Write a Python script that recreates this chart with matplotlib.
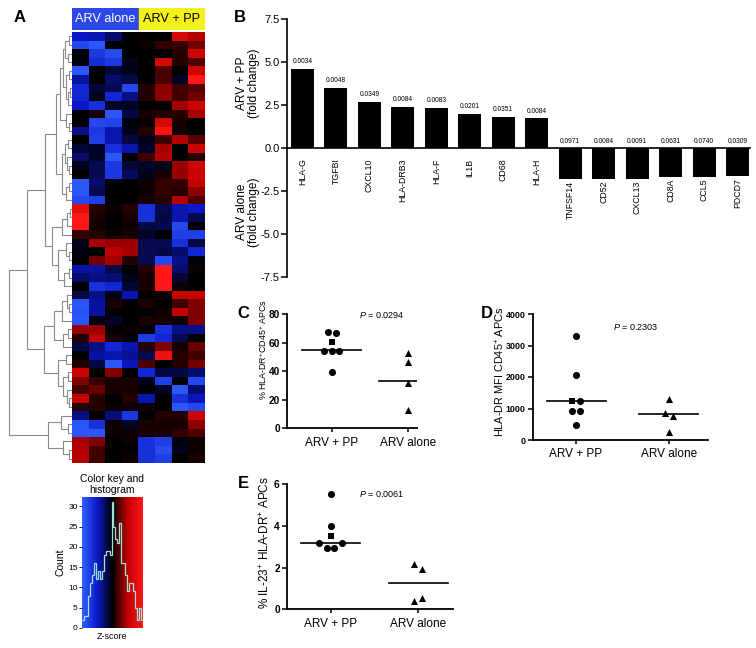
import numpy as np
import matplotlib
matplotlib.use("Agg")
import matplotlib.pyplot as plt
from matplotlib.colors import LinearSegmentedColormap

plt.rcParams["font.family"] = ["Liberation Sans", "DejaVu Sans"]
plt.rcParams["mathtext.fontset"] = "custom"
plt.rcParams["mathtext.rm"] = "Liberation Sans"
plt.rcParams["mathtext.it"] = "Liberation Sans:italic"
plt.rcParams["mathtext.bf"] = "Liberation Sans:bold"

W, H = 756, 648

#. Panel A : z-scores, rows top to bottom, 4 ARV alone + 4 ARV + PP columns
groups = ["ARV alone", "ARV + PP"]
heat_z = [
    [-1.5, -1.3, -0.8, 0, 0, 0, 2.0, 1.4],
    [-2.5, -2.8, 0, 0, 0.1, 0.4, 0.4, 0.9],
    [0, -2.2, -2.6, 0, 0, 0, 0.3, 1.8],
    [-0.1, -1.9, -2.2, -0.2, 0, 2.0, 0.3, 0.6],
    [-2.8, 0, -0.4, -0.2, 0, 0.6, 0, 1.8],
    [-1.2, 0, -0.8, -0.5, 0, 0.6, -0.3, 3.0],
    [-1.8, -0.4, -0.6, -2.5, 0.3, 1.1, 0.5, 0.7],
    [-1.8, -0.2, -1.8, -1.0, 0.3, 1.1, 0.5, 0.9],
    [-1.5, -2.0, -0.3, -0.3, 0, 0, 1.3, 1.8],
    [0, 0.2, -2.8, -0.5, 0.2, 0.3, 0.3, 1.3],
    [0, -2.5, -2.4, -0.1, 0.1, 2.0, 0.2, 0],
    [-1.0, -2.2, -1.3, -0.2, 0.3, 2.8, 0.1, 0],
    [0, -2.3, -1.3, -0.5, -0.2, 0.5, 1.4, 0.7],
    [-0.4, -0.3, -2.0, -1.3, -0.3, 1.3, 0, 1.8],
    [-0.8, -0.3, -2.8, 0, 0.5, 1.4, 0, 0.3],
    [-0.2, -0.6, -2.2, -0.4, -0.3, -0.2, 1.2, 1.8],
    [0, -0.6, -2.2, -0.7, -0.2, 0.2, 1.2, 1.8],
    [-2.8, -0.8, 0, 0, 0.1, 0.4, 0.4, 1.6],
    [-2.8, -0.6, 0, 0, 0.1, 0.4, 0.3, 1.1],
    [-2.5, -2.3, 0, 0, 0.2, 0.3, 1.4, 0.6],
    [2.3, 0.3, 0.1, 0.3, -2.0, -0.6, -1.3, -1.5],
    [3.0, 0.2, 0, 0.2, -2.0, -0.5, -1.3, -0.6],
    [3.0, 0.1, 0, 0.1, -0.5, -0.6, -2.5, 0],
    [0.4, 0.3, 0.1, 0.2, -0.3, 0, -2.3, -2.3],
    [-0.2, 1.3, 1.2, 1.2, -0.6, -0.6, -2.0, -0.5],
    [-0.1, 0, 1.5, 1.3, -0.6, -0.5, -0.8, -1.8],
    [0, 0.9, 1.3, 0.3, -0.6, -2.5, -1.0, -0.1],
    [-1.2, -1.2, -0.5, 0, 0.3, 3.0, -0.8, 0.1],
    [-0.8, -1.0, -0.9, -0.2, 0.2, 3.0, -0.4, 0],
    [0, -2.0, -1.8, -0.4, 0.2, 3.0, 0.1, 0],
    [-0.5, -1.0, -0.2, -1.3, 0, 0.1, 1.6, 1.6],
    [-2.8, -1.2, 0.2, 0, 0.2, 0, 0.5, 1.0],
    [-2.7, -1.2, 0, 0, 0, 0.1, 1.5, 1.0],
    [-2.8, -0.1, -0.3, 0, 0.2, 0.2, 0.1, 1.0],
    [1.2, 1.2, 0, 0.1, 0, -2.0, -1.0, -1.0],
    [0.3, 1.5, 0.2, 0, -2.3, -1.8, -0.6, 0],
    [-0.5, -1.0, -1.8, -1.3, 0.3, 1.0, 0.2, 0.8],
    [0, -1.2, -1.3, -1.1, -0.6, 2.6, 0.3, 0.5],
    [0.3, -0.5, -2.8, -1.4, 0.6, 0, 0.3, 0.9],
    [1.8, 0, 1.0, 0, -1.8, -0.5, -0.5, -0.8],
    [1.0, 0.4, 0.2, 0.2, -0.2, -2.3, 0, -2.5],
    [0.5, 0.8, 0.2, 0.2, 0, -0.3, -2.8, -0.8],
    [1.6, 0.3, 0, 0.3, -1.3, 0, -2.0, -1.4],
    [0.3, 0.3, 0.1, 0.1, 0.1, 0, -2.8, -2.5],
    [-1.0, 0, -0.9, -2.2, 0, 0.3, 0.3, 1.8],
    [-2.8, -2.0, 0.1, -0.3, 0.2, 0.2, 0.2, 1.1],
    [-2.8, -2.8, 0.1, 0.1, 0.2, 0.2, 0.4, 0.6],
    [1.3, 1.0, 0, 0.1, -2.0, -2.3, -0.1, 0.1],
    [1.4, 0.5, 0, 0, -2.0, -2.6, -0.2, 0.1],
    [1.4, 0.5, 0, 0.1, -2.0, -2.3, 0, 0.2],
]

#. row dendrogram : [height, left, right], leaves = row index
row_tree = [63,
    [45,
        [27,
            [16,
                [12, [9, [7, [3, 0, 1], [4, 2, 3]], [6, [3, 4, 5], [4, [2, 6, 7], 8]]], [6, 9, [3, 10, 11]]],
                [10, [7, [4, 12, 13], [5, 14, [3, 15, 16]]], [6, [3, 17, 18], 19]]],
            [20, [10, [5, [2, 20, 21], 22], 23], [14, [6, 24, [3, 25, 26]], [8, [3, 27, 28], 29]]]],
        [28.5,
            [18, [10, [5, 30, [3, 31, 32]], 33], [9, [4, 34, 35], 36]],
            [14, [6, 37, 38], [9, [4, 39, 40], [5, 41, [3, 42, 43]]]]]],
    [24, [11, 44, [4, 45, 46]], [9, 47, [3, 48, 49]]]]

#. colour key histogram counts
hist_counts = [2, 3, 3, 8, 11, 13, 16, 12, 14, 12, 14, 18, 19, 19, 18, 31, 25,
               22, 21, 26, 16, 16, 13, 9, 11, 11, 9, 5, 2, 5, 2]

#. Panel B
genes = ["HLA-G", "TGFBI", "CXCL10", "HLA-DRB3", "HLA-F", "IL1B", "CD68", "HLA-H",
         "TNFSF14", "CD52", "CXCL13", "CD8A", "CCL5", "PDCD7"]
fold_change = [4.61, 3.49, 2.69, 2.41, 2.35, 2.0, 1.81, 1.73,
               -1.79, -1.79, -1.79, -1.67, -1.67, -1.63]
gene_p = ["0.0034", "0.0048", "0.0349", "0.0084", "0.0083", "0.0201", "0.0351", "0.0084",
          "0.0971", "0.0084", "0.0091", "0.0631", "0.0740", "0.0309"]

#. Panels C, D, E
dot_groups = ["ARV + PP", "ARV alone"]
pp_marker = ["o", "o", "s", "o", "o", "o", "o"]
c_pp = [67.5, 66.7, 60.2, 54.3, 54.3, 54.3, 39.5]
c_alone = [52.5, 46.7, 31.5, 12.8]
c_lines = [54.5, 33.0]
d_pp = [3302, 2063, 1248, 1248, 921, 921, 476]
d_alone = [1311, 847, 772, 244]
d_lines = [1248, 815]
e_pp = [5.54, 3.99, 3.51, 3.16, 3.16, 2.92, 2.92]
e_alone = [2.17, 1.91, 0.40, 0.53]
e_lines = [3.16, 1.24]
p_values = ["0.0294", "0.2303", "0.0061"]


def box(x0, y0, x1, y1):
    return [x0 / W, 1 - y1 / H, (x1 - x0) / W, (y1 - y0) / H]


def draw_tree(ax, node):
    if not isinstance(node, list):
        return node, 0
    h, a, b = node
    ya, ha = draw_tree(ax, a)
    yb, hb = draw_tree(ax, b)
    ax.plot([ha, h, h, hb], [ya, ya, yb, yb], color="#8a8a8a", lw=0.8)
    return (ya + yb) / 2, h


def swarm(vals, ypu, thr_px=6.5):
    vals = np.asarray(vals, float)
    order = np.argsort(-vals, kind="stable")
    slots = np.zeros(len(vals))
    clusters, cur = [], [order[0]]
    for a, b in zip(order[:-1], order[1:]):
        if (vals[a] - vals[b]) * ypu < thr_px:
            cur.append(b)
        else:
            clusters.append(cur)
            cur = [b]
    clusters.append(cur)
    for cl in clusters:
        cl = sorted(cl)
        n = len(cl)
        pos = sorted(np.arange(n) - (n - 1) / 2, key=lambda s: (-abs(s), s))
        for idx, s in zip(cl, pos):
            slots[idx] = s
    return slots


fig = plt.figure(figsize=(7.56, 6.48), dpi=100)
cmap = LinearSegmentedColormap.from_list("key", ["#3060ff", "#0c18c8", "#000000", "#c00000", "#ff1818"])

#. ---- A : heatmap ----
axH = fig.add_axes(box(72, 32, 205, 463))
axH.imshow(np.array(heat_z), cmap=cmap, vmin=-3, vmax=3, aspect="auto", interpolation="nearest")
axH.axis("off")

axT = fig.add_axes(box(72, 8, 205, 30))
axT.axvspan(0, 4, color="#2c48e8")
axT.axvspan(4, 8, color="#f2f21a")
axT.set_xlim(0, 8)
axT.set_ylim(0, 1)
axT.axis("off")
axT.text(2, 0.5, groups[0], color="white", ha="center", va="center", fontsize=9.2)
axT.text(6, 0.5, groups[1], color="black", ha="center", va="center", fontsize=9.2)

axDn = fig.add_axes(box(0, 32, 72, 463))
draw_tree(axDn, row_tree)
axDn.set_xlim(72, 0)
axDn.set_ylim(len(heat_z) - 0.5, -0.5)
axDn.axis("off")

fig.text(20 / W, 1 - 18 / H, "A", fontsize=12, fontweight="bold", ha="center", va="center")

#. colour key
axK = fig.add_axes(box(82, 497, 143, 628))
axK.imshow(np.linspace(-3, 3, 256)[None, :], cmap=cmap, vmin=-3, vmax=3,
           aspect="auto", extent=[-3, 3, 0, 32.3])
edges = np.linspace(-3, 3, len(hist_counts) + 1)
axK.stairs(hist_counts, edges, baseline=None, color="#9fe3d8", lw=0.9)
axK.set_xlim(-3, 3)
axK.set_ylim(0, 32.3)
axK.set_xticks([])
axK.set_yticks(range(0, 31, 5))
axK.tick_params(axis="y", labelsize=6, length=2, width=0.6, pad=1)
for s in axK.spines.values():
    s.set_visible(False)
axK.set_ylabel("Count", fontsize=7.5, labelpad=2)
axK.set_xlabel("Z-score", fontsize=6.5, labelpad=3)
axK.set_title("Color key and\nhistogram", fontsize=7.5, pad=3, linespacing=1.1)

#. ---- B : fold change bars ----
axB = fig.add_axes(box(286.7, 19, 750, 277))
xb = np.arange(len(genes))
axB.bar(xb, fold_change, width=0.69, color="black")
for xi, v, g, p in zip(xb, fold_change, genes, gene_p):
    if v > 0:
        axB.annotate(p, (xi, v), xytext=(0, 2.5), textcoords="offset points",
                     ha="center", va="bottom", fontsize=4.8)
        axB.annotate(g, (xi, 0), xytext=(0, -7.5), textcoords="offset points",
                     ha="center", va="top", rotation=90, fontsize=6.3)
    else:
        axB.annotate(p, (xi, 0), xytext=(0, 2.5), textcoords="offset points",
                     ha="center", va="bottom", fontsize=4.8)
        axB.annotate(g, (xi, v), xytext=(0, -1.5), textcoords="offset points",
                     ha="center", va="top", rotation=90, fontsize=6.3)
axB.set_xlim(-0.47, 13.37)
axB.set_ylim(-7.5, 7.5)
yt = [-7.5, -5, -2.5, 0, 2.5, 5, 7.5]
axB.set_yticks(yt)
axB.set_yticklabels(["%.1f" % t for t in yt])
axB.set_xticks([])
axB.spines["top"].set_visible(False)
axB.spines["right"].set_visible(False)
axB.spines["bottom"].set_position(("data", 0))
axB.spines["left"].set_linewidth(1.2)
axB.spines["bottom"].set_linewidth(1.2)
axB.tick_params(axis="y", labelsize=8, length=4, width=1.1, pad=1)
fig.text(248 / W, 1 - 83 / H, "ARV + PP\n(fold change)", rotation=90, ha="center",
         va="center", fontsize=8.6, multialignment="center", linespacing=0.95)
fig.text(248 / W, 1 - 212 / H, "ARV alone\n(fold change)", rotation=90, ha="center",
         va="center", fontsize=8.6, multialignment="center", linespacing=0.95)
fig.text(240 / W, 1 - 17 / H, "B", fontsize=12, fontweight="bold", ha="center", va="center")


#. ---- C, D, E : dot plots ----
def dot_panel(rect, xlim, ylim, yticks, tick_fs, pp, alone, lines, p, p_xy, ylab, ylab_xy,
              ylab_fs, letter, letter_xy):
    ax = fig.add_axes(box(*rect))
    ax.set_xlim(*xlim)
    ax.set_ylim(*ylim)
    xpu = (rect[2] - rect[0]) / (xlim[1] - xlim[0])
    ypu = (rect[3] - rect[1]) / (ylim[1] - ylim[0])
    for gi, (vals, mks) in enumerate([(pp, pp_marker), (alone, ["^"] * len(alone))]):
        offs = swarm(vals, ypu) * 7.7 / xpu
        for v, o, m in zip(vals, offs, mks):
            ax.scatter(gi + o, v, marker=m, s=22 if m == "s" else 26, color="black",
                       linewidths=0, zorder=3, clip_on=False)
        hw = 29.5 / xpu
        ax.plot([gi - hw, gi + hw], [lines[gi]] * 2, color="black", lw=1.2)
    ax.set_xticks([0, 1])
    ax.set_xticklabels(dot_groups, fontsize=8.5)
    ax.set_yticks(yticks)
    for t in ax.get_yticklabels():
        t.set_fontweight("bold")
        t.set_fontsize(tick_fs)
    ax.spines["top"].set_visible(False)
    ax.spines["right"].set_visible(False)
    ax.spines["left"].set_linewidth(1.3)
    ax.spines["bottom"].set_linewidth(1.3)
    ax.tick_params(axis="y", length=3.5, width=1.1, pad=1.5)
    ax.tick_params(axis="x", length=3, width=1.1, pad=3)
    fig.text(p_xy[0] / W, 1 - p_xy[1] / H, "$P$ = " + p, fontsize=6.5, ha="center", va="center")
    fig.text(ylab_xy[0] / W, 1 - ylab_xy[1] / H, ylab, rotation=90, ha="center", va="center",
             fontsize=ylab_fs)
    fig.text(letter_xy[0] / W, 1 - letter_xy[1] / H, letter, fontsize=12, fontweight="bold",
             ha="center", va="center")
    return ax


dot_panel((286.7, 314, 416.7, 428.3), (-0.587, 1.11), (0, 80), [0, 20, 40, 60, 80], 7.3,
          c_pp, c_alone, c_lines, p_values[0], (381.5, 315),
          r"% HLA-DR$^{+}$CD45$^{+}$ APCs", (263, 350), 6.4, "C", (243, 313))
dot_panel((532.7, 314, 708, 440), (-0.466, 1.42), (0, 4000), [0, 1000, 2000, 3000, 4000], 6.4,
          d_pp, d_alone, d_lines, p_values[1], (636, 327),
          r"HLA-DR MFI CD45$^{+}$ APCs", (500, 372), 7.8, "D", (487, 313))
dot_panel((286.7, 484, 453, 609.3), (-0.502, 1.40), (0, 6), [0, 2, 4, 6], 7.3,
          e_pp, e_alone, e_lines, p_values[2], (382, 494),
          r"% IL-23$^{+}$ HLA-DR$^{+}$ APCs", (265, 543), 8.5, "E", (243, 484))

fig.savefig("out.png", dpi=100)
